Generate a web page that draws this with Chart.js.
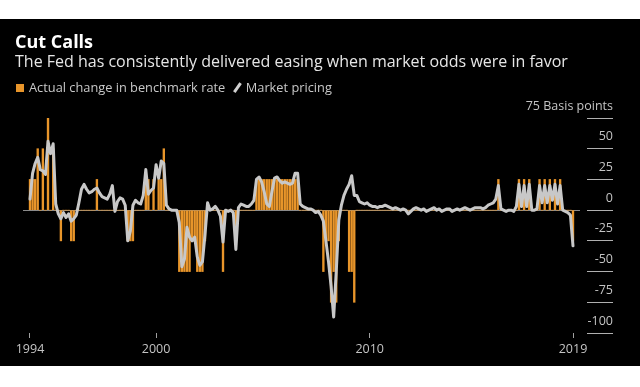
<!DOCTYPE html>
<html>
<head>
<meta charset="utf-8">
<script src="https://cdn.jsdelivr.net/npm/chart.js@4.4.1/dist/chart.umd.min.js"></script>
<style>
  html,body{margin:0;padding:0;background:#fff;width:640px;height:387px;overflow:hidden;font-family:"Open Sans",sans-serif;}
  #panel{position:absolute;left:0;top:19px;width:640px;height:347px;background:#000;}
  #c{position:absolute;left:0;top:0;}
  .t{position:absolute;white-space:nowrap;}
  #title{left:15px;top:31px;font-size:18px;font-weight:700;color:#fff;line-height:20px;}
  #sub{left:15px;top:51px;font-size:16px;color:#e6e6e6;line-height:20px;}
  #leg{left:16px;top:79px;font-size:12.8px;color:#c8c8c8;line-height:16px;}
  #leg .sq{display:inline-block;width:8px;height:8px;background:#e8952a;margin-right:5px;vertical-align:0px;}
  #leg .sl{display:inline-block;width:2.5px;height:11px;background:#d0d0d0;transform:rotate(35deg);margin:0 7px 0 11px;vertical-align:-1px;}
</style>
</head>
<body>
<div id="panel"></div>
<canvas id="c" width="640" height="387"></canvas>
<div class="t" id="title">Cut Calls</div>
<div class="t" id="sub">The Fed has consistently delivered easing when market odds were in favor</div>
<div class="t" id="leg"><span class="sq"></span>Actual change in benchmark rate<span class="sl"></span>Market pricing</div>
<script>
// FOMC decision dates (year-month), one per point
const meetings = [
 '1994-02','1994-03','1994-04','1994-05','1994-07','1994-08','1994-09','1994-11','1994-12',
 '1995-02','1995-03','1995-05','1995-07','1995-08','1995-09','1995-11','1995-12',
 '1996-01','1996-03','1996-05','1996-07','1996-08','1996-09','1996-11','1996-12',
 '1997-02','1997-03','1997-05','1997-07','1997-08','1997-09','1997-11','1997-12',
 '1998-02','1998-03','1998-05','1998-07','1998-08','1998-09','1998-10','1998-11','1998-12',
 '1999-02','1999-03','1999-05','1999-06','1999-08','1999-10','1999-11','1999-12',
 '2000-02','2000-03','2000-05','2000-06','2000-08','2000-10','2000-11','2000-12',
 '2001-01a','2001-01b','2001-03','2001-04','2001-05','2001-06','2001-08','2001-09','2001-10','2001-11','2001-12',
 '2002-01','2002-03','2002-05','2002-06','2002-08','2002-09','2002-11','2002-12',
 '2003-01','2003-03','2003-05','2003-06','2003-08','2003-09','2003-10','2003-12',
 '2004-01','2004-03','2004-05','2004-06','2004-08','2004-09','2004-11','2004-12',
 '2005-02','2005-03','2005-05','2005-06','2005-08','2005-09','2005-11','2005-12',
 '2006-01','2006-03','2006-05','2006-06','2006-08','2006-09','2006-10','2006-12',
 '2007-01','2007-03','2007-05','2007-06','2007-08','2007-09','2007-10','2007-12',
 '2008-01a','2008-01b','2008-03','2008-04','2008-06','2008-08','2008-09','2008-10a','2008-10b','2008-12',
 '2009-01','2009-03','2009-04','2009-06','2009-08','2009-09','2009-11','2009-12',
 '2010-01','2010-03','2010-04','2010-06','2010-08','2010-09','2010-11','2010-12',
 '2011-01','2011-03','2011-04','2011-06','2011-08','2011-09','2011-11','2011-12',
 '2012-01','2012-03','2012-04','2012-06','2012-08','2012-09','2012-10','2012-12',
 '2013-01','2013-03','2013-05','2013-06','2013-07','2013-09','2013-10','2013-12',
 '2014-01','2014-03','2014-04','2014-06','2014-07','2014-09','2014-10','2014-12',
 '2015-01','2015-03','2015-04','2015-06','2015-07','2015-09','2015-10','2015-12',
 '2016-01','2016-03','2016-04','2016-06','2016-07','2016-09','2016-11','2016-12',
 '2017-02','2017-03','2017-05','2017-06','2017-07','2017-09','2017-11','2017-12',
 '2018-01','2018-03','2018-05','2018-06','2018-08','2018-09','2018-11','2018-12',
 '2019-01','2019-03','2019-05','2019-06','2019-07'
];
// Actual change in benchmark rate (bp)
const actualChange = [
 25,25,25,50,0,50,0,75,0,
 50,0,0,-25,0,0,0,-25,
 -25,0,0,0,0,0,0,0,
 0,25,0,0,0,0,0,0,
 0,0,0,0,0,-25,-25,-25,0,
 0,0,0,25,25,0,25,0,
 25,25,50,0,0,0,0,0,
 -50,-50,-50,-50,-50,-25,-25,-50,-50,-50,-25,
 0,0,0,0,0,0,-50,0,
 0,0,0,-25,0,0,0,0,
 0,0,0,25,25,25,25,25,
 25,25,25,25,25,25,25,25,
 25,25,25,25,0,0,0,0,
 0,0,0,0,0,-50,-25,-25,
 -75,-50,-75,-25,0,0,0,-50,-50,-75,
 0,0,0,0,0,0,0,0,
 0,0,0,0,0,0,0,0,
 0,0,0,0,0,0,0,0,
 0,0,0,0,0,0,0,0,
 0,0,0,0,0,0,0,0,
 0,0,0,0,0,0,0,0,
 0,0,0,0,0,0,0,25,
 0,0,0,0,0,0,0,25,
 0,25,0,25,0,0,0,25,
 0,25,0,25,0,25,0,25,
 0,0,0,0,-25
];
// Market pricing ahead of each meeting (bp)
const marketPricing = [
 9,30,38,43,33,32,29,56,46,
 54,5,-3,-7,-2,-6,-3,-9,
 -7,-4,6,17,21,17,14,15,
 17,18,14,11,10,9,13,20,
 -1,7,10,9,4,-25,-17,4,8,
 6,5,12,33,13,16,18,37,
 26,40,38,4,1,0,0,0,
 -10,-46,-40,-14,-22,-25,-22,-38,-45,-42,-20,
 6,0,1,3,0,-5,-26,0,
 -1,0,-2,-32,2,5,4,3,
 3,5,8,25,27,23,15,5,
 3,15,26,27,24,22,23,22,
 21,22,30,30,5,3,2,1,
 1,0,-2,-1,-4,-9,-25,-42,
 -62,-87,-50,-8,4,12,17,21,28,12,
 12,7,6,5,6,4,3,3,
 2,3,3,4,3,2,1,2,
 1,0,1,0,-3,-1,1,2,
 1,0,1,-1,0,1,2,0,
 1,-1,0,1,1,-1,0,1,
 0,1,2,1,0,1,2,2,
 2,1,2,4,5,6,9,20,
 1,0,-1,0,0,-1,3,21,
 3,20,3,21,0,0,1,20,
 6,20,6,20,8,21,5,20,
 0,-1,-2,-4,-29
];
// axis ticks
const xTickIndex = [0, 49, 132, 211];
const xTickLabels = ['1994', '2000', '2010', '2019'];
const yTicks = [-100, -75, -50, -25, 0, 25, 50, 75];
const yUnit = 'Basis points';

const barPts = actualChange.map((v, i) => ({x: i, y: v}));
const linePts = marketPricing.map((v, i) => ({x: i, y: v}));
const tickFont = {family: '"Open Sans", sans-serif', size: 12.5};

new Chart(document.getElementById('c'), {
  data: {
    datasets: [
      {type: 'line', label: 'Market pricing', data: linePts, borderColor: '#c8c8c8', borderWidth: 3,
       pointRadius: 0, tension: 0, borderJoinStyle: 'round', borderCapStyle: 'round', order: 0},
      {type: 'bar', label: 'Actual change in benchmark rate', data: barPts, backgroundColor: '#e8952a',
       barThickness: 1.7, borderWidth: 0, order: 1}
    ]
  },
  options: {
    responsive: false,
    devicePixelRatio: 1,
    animation: false,
    layout: {padding: {left: 23, right: 0, top: 118, bottom: 0}},
    plugins: {legend: {display: false}, tooltip: {enabled: false}, title: {display: false}},
    scales: {
      x: {
        type: 'linear', min: -2.72, max: 213.72, offset: false,
        afterBuildTicks: s => { s.ticks = xTickIndex.map(v => ({value: v})); },
        afterFit: s => { s.height = 54; },
        ticks: {
          autoSkip: false, maxRotation: 0, color: '#c4c4c4', font: tickFont, padding: 4,
          callback: v => { const k = xTickIndex.indexOf(v); return k >= 0 ? xTickLabels[k] : ''; }
        },
        grid: {offset: false, drawOnChartArea: false, drawTicks: true, tickLength: 5, tickColor: '#a0a0a0', tickWidth: 1},
        border: {display: false}
      },
      y: {
        type: 'linear', position: 'right', min: -100, max: 75,
        afterBuildTicks: s => { s.ticks = yTicks.map(v => ({value: v})); },
        afterFit: s => { s.width = 60; },
        ticks: {
          mirror: true, padding: 33, labelOffset: -12, color: '#c4c4c4', font: tickFont,
          callback: v => v === 75 ? '75 ' + yUnit : String(v)
        },
        grid: {
          drawOnChartArea: true, drawTicks: true, tickLength: 33,
          color: c => (c.tick && c.tick.value === 0) ? '#8a8a8a' : 'rgba(0,0,0,0)',
          lineWidth: 1,
          tickColor: '#b0b0b0', tickWidth: 1, tickBorderDash: [0, 7, 26, 200]
        },
        border: {display: false}
      }
    }
  }
});
</script>
</body>
</html>
